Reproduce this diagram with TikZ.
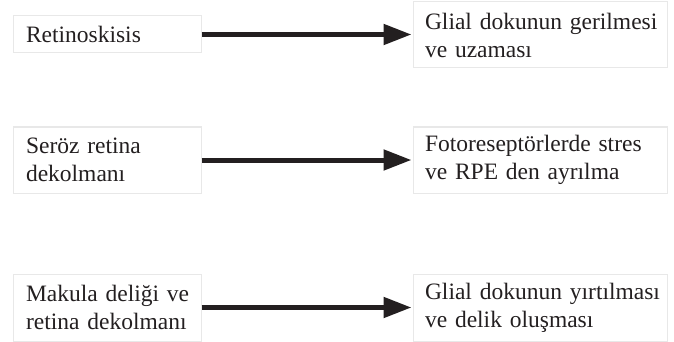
\documentclass[tikz,border=0pt]{standalone}
\usepackage{fontspec}
\setmainfont{Liberation Serif}
\usetikzlibrary{arrows.meta}
\definecolor{ink}{HTML}{231F20}
\definecolor{edge}{HTML}{E8E8E8}
\newcommand{\myline}[1]{\mbox{#1}}
\begin{document}
\begin{tikzpicture}[x=1pt,y=-1pt,
  box/.style={draw=edge, line width=1pt, text=ink, align=left, anchor=center,
    font=\fontsize{23.5pt}{28pt}\selectfont, inner ysep=0pt},
  lbox/.style={box, inner xsep=13pt, text width=162pt},
  rbox/.style={box, inner xsep=12pt, text width=230pt},
  conn/.style={draw=ink, line width=5pt, -{Triangle[length=28pt,width=20pt]}, shorten >=1pt}]
\useasboundingbox (0,0) rectangle (674,342);
% row 1
\node[lbox, minimum height=37pt] (l1) at (107,34.5) {\myline{Retinoskisis}};
\node[rbox, minimum height=66pt] (r1) at (540,35) {\myline{Glial dokunun gerilmesi}\\\myline{ve uzaması}};
% row 2
\node[lbox, minimum height=66pt] (l2) at (107,160) {\myline{Seröz retina}\\\myline{dekolmanı}};
\node[rbox, minimum height=66pt] (r2) at (540,160) {\myline{Fotoreseptörlerde stres}\\\myline{ve RPE den ayrılma}};
% row 3
\node[lbox, minimum height=67pt] (l3) at (107,307.5) {\myline{Makula deliği ve}\\\myline{retina dekolmanı}};
\node[rbox, minimum height=67pt] (r3) at (540,307.5) {\myline{Glial dokunun yırtılması}\\\myline{ve delik oluşması}};
% arrows
\draw[conn] (l1.east) -- (l1.east -| r1.west);
\draw[conn] (l2.east) -- (l2.east -| r2.west);
\draw[conn] (l3.east) -- (l3.east -| r3.west);
\end{tikzpicture}
\end{document}
